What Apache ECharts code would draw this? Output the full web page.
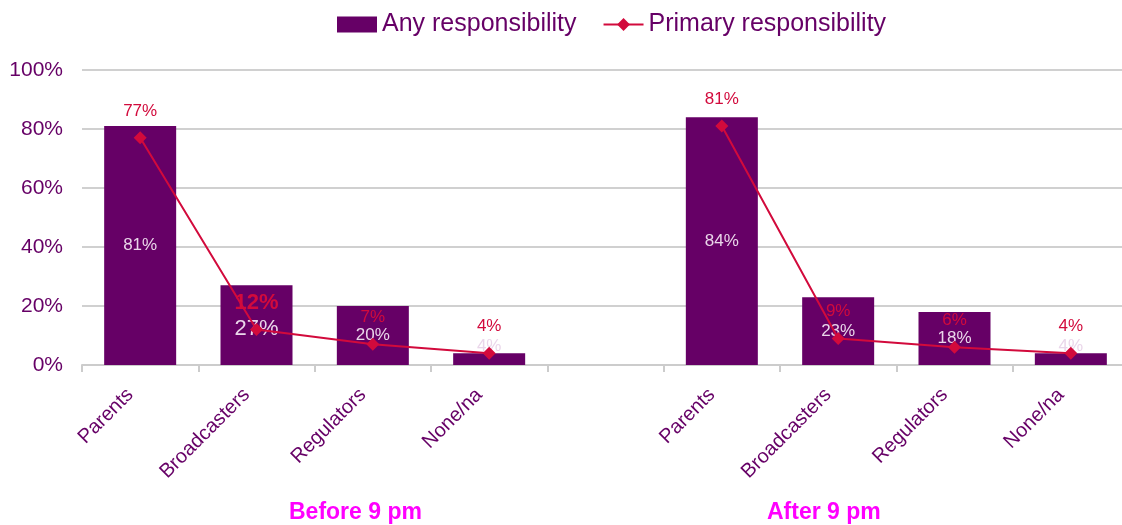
<!DOCTYPE html>
<html>
<head>
<meta charset="utf-8">
<style>
  html, body { margin: 0; padding: 0; background: #ffffff; overflow: hidden; }
  #chart { width: 1129px; height: 525px; }
</style>
<script src="https://cdn.jsdelivr.net/npm/echarts@6/dist/echarts.min.js"></script>
</head>
<body>
<div id="chart"></div>
<script>
// Categories: two groups of four, separated by one empty slot
const categories = ['Parents', 'Broadcasters', 'Regulators', 'None/na', '',
                    'Parents', 'Broadcasters', 'Regulators', 'None/na'];
// Share of respondents naming each party as having any responsibility (%)
const anyResponsibility = [81, 27, 20, 4, null, 84, 23, 18, 4];
// Share naming each party as having primary responsibility (%)
const primaryResponsibility = [77, 12, 7, 4, null, 81, 9, 6, 4];
const yTicks = [0, 20, 40, 60, 80, 100];
const groupLabels = ['Before 9 pm', 'After 9 pm'];

const PURPLE = '#660066';
const RED = '#d20a3c';
const FONT = '"Liberation Sans", Arial, sans-serif';

// Larger labels used for the first "Broadcasters" entry
const emphasisIndex = 1;

const barData = anyResponsibility.map((v, i) => {
  if (v === null) return null;
  const item = { value: v };
  if (v < 10) {
    item.label = { position: 'top', distance: -2 };
  }
  if (i === emphasisIndex) {
    item.label = { fontSize: 22, offset: [0, 4] };
  }
  return item;
});

const lineData = primaryResponsibility.map((v, i) => {
  if (v === null) return null;
  const item = { value: v };
  if (i === emphasisIndex) {
    item.label = { fontSize: 22, fontWeight: 'bold', distance: 9 };
  }
  return item;
});

const chart = echarts.init(document.getElementById('chart'), null, { renderer: 'canvas' });

chart.setOption({
  animation: false,
  textStyle: { fontFamily: FONT },
  legend: {
    top: 7,
    left: 332,
    itemGap: 26,
    itemWidth: 40,
    itemHeight: 16,
    textStyle: { color: PURPLE, fontSize: 25, fontFamily: FONT },
    data: [
      { name: 'Any responsibility', icon: 'rect' },
      { name: 'Primary responsibility' }
    ]
  },
  grid: {
    left: 82,
    right: 0,
    top: 70,
    bottom: 160,
    containLabel: false
  },
  xAxis: {
    type: 'category',
    data: categories,
    boundaryGap: true,
    axisLine: { show: true, lineStyle: { color: '#cccccc', width: 2 } },
    axisTick: { show: true, alignWithLabel: false, length: 7, lineStyle: { color: '#cccccc', width: 2 } },
    axisLabel: {
      rotate: 45,
      interval: 0,
      margin: 17,
      padding: [0, 14, 0, 0],
      color: PURPLE,
      fontSize: 20,
      fontFamily: FONT
    }
  },
  yAxis: {
    type: 'value',
    min: yTicks[0],
    max: yTicks[yTicks.length - 1],
    interval: yTicks[1] - yTicks[0],
    axisLine: { show: false },
    axisTick: { show: false },
    axisLabel: {
      formatter: '{value}%',
      color: PURPLE,
      fontSize: 21,
      margin: 19,
      fontFamily: FONT
    },
    splitLine: { lineStyle: { color: '#d0d0d0', width: 2 } }
  },
  series: [
    {
      name: 'Any responsibility',
      type: 'bar',
      data: barData,
      barWidth: 72,
      itemStyle: { color: PURPLE },
      label: {
        show: true,
        position: 'inside',
        formatter: '{c}%',
        color: '#ead6ea',
        fontSize: 17,
        fontFamily: FONT
      },
      z: 2
    },
    {
      name: 'Primary responsibility',
      type: 'line',
      data: lineData,
      connectNulls: false,
      symbol: 'diamond',
      symbolSize: 13,
      itemStyle: { color: RED },
      lineStyle: { color: RED, width: 2 },
      label: {
        show: true,
        position: 'top',
        distance: 12,
        formatter: '{c}%',
        color: RED,
        fontSize: 17,
        fontFamily: FONT
      },
      z: 3
    }
  ],
  graphic: [
    {
      type: 'text',
      left: 289,
      top: 501,
      style: {
        text: groupLabels[0],
        fill: '#ff00ff',
        font: 'bold 23px "Liberation Sans", Arial, sans-serif'
      }
    },
    {
      type: 'text',
      left: 767,
      top: 501,
      style: {
        text: groupLabels[1],
        fill: '#ff00ff',
        font: 'bold 23px "Liberation Sans", Arial, sans-serif'
      }
    }
  ]
});
</script>
</body>
</html>
